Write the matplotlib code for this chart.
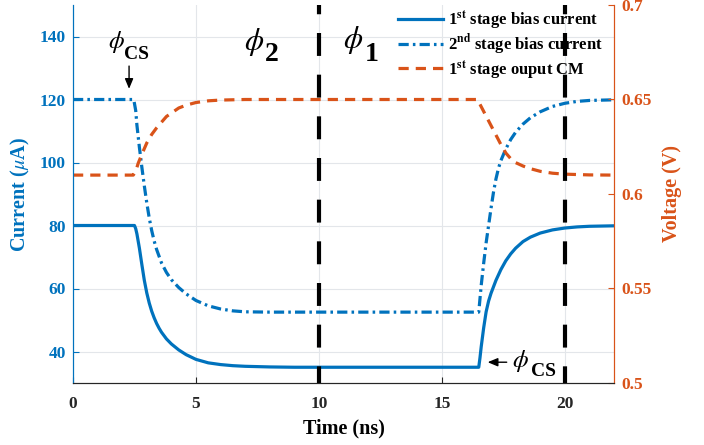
import numpy as np
import matplotlib
matplotlib.use("Agg")
import matplotlib.pyplot as plt

plt.rcParams['font.family'] = ['Liberation Serif', 'DejaVu Serif']
plt.rcParams['mathtext.fontset'] = 'stix'

BLUE = '#0072BD'
ORANGE = '#D95319'

# 1st stage bias current (uA)
t_first = [0, 2.5, 2.55, 2.6, 2.7, 2.8, 2.9, 3.0, 3.1, 3.2, 3.3, 3.4, 3.5, 3.6, 3.8, 4.0, 4.3,
           4.6, 5.0, 5.5, 6.0, 6.5, 7.0, 8.0, 9.0, 16.5, 16.55, 16.6, 16.7, 16.8, 16.9, 17.0,
           17.2, 17.4, 17.6, 17.8, 18.0, 18.3, 18.6, 19.0, 19.5, 20.0, 20.5, 21.0, 22.0]
i_first = [80, 80, 79, 77.3, 72.8, 67.6, 62.6, 58.6, 55.4, 52.8, 50.7, 48.9, 47.4, 46.1, 44, 42.4, 40.5,
           39, 37.5, 36.4, 35.85, 35.5, 35.3, 35.1, 35, 35, 38, 41.5, 47.5, 52.6, 56, 58.5,
           62.6, 66, 68.8, 71, 72.8, 74.9, 76.3, 77.6, 78.6, 79.2, 79.55, 79.75, 79.9]

# 2nd stage bias current (uA)
t_second = [0, 2.47, 2.55, 2.6, 2.7, 2.8, 2.9, 3.0, 3.1, 3.2, 3.3, 3.4, 3.6, 3.8, 4.0, 4.3,
            4.6, 5.0, 5.5, 6.0, 6.5, 7.0, 8.0, 16.5, 16.6, 16.7, 16.8, 16.9, 17.0, 17.1,
            17.2, 17.3, 17.4, 17.6, 17.8, 18.0, 18.3, 18.6, 19.0, 19.5, 20.0, 20.5, 21.0, 22.0]
i_second = [120, 120, 116.5, 111.8, 104.8, 98.5, 92.6, 87.2, 82.4, 78.4, 75.1, 72.4, 68.1, 65.1, 62.8, 60.3,
            58.3, 56.2, 54.5, 53.5, 52.9, 52.6, 52.5, 52.5, 61, 68, 74.5, 80, 85.5, 90.6,
            94.8, 98.1, 100.6, 104.3, 107.3, 109.6, 112.2, 114.2, 116.1, 117.8, 118.8, 119.4, 119.7, 119.9]

# 1st stage output common mode (V)
t_cm = [0, 2.45, 2.55, 2.65, 2.8, 3.0, 3.2, 3.4, 3.6, 3.8, 4.0, 4.3, 4.6, 5.0, 5.5, 6.0, 7.0,
        16.45, 16.6, 16.8, 17.0, 17.2, 17.4, 17.6, 17.8, 18.0, 18.3, 18.6, 19.0, 19.5, 20.0, 21.0, 22.0]
v_cm = [0.61, 0.61, 0.612, 0.6162, 0.621, 0.627, 0.6315, 0.635, 0.638, 0.641, 0.6428, 0.6455,
        0.647, 0.6484, 0.6493, 0.6497, 0.65,
        0.65, 0.6462, 0.6412, 0.6362, 0.6312, 0.6262, 0.6217, 0.6187, 0.6166, 0.6148, 0.6134,
        0.612, 0.611, 0.6105, 0.6101, 0.61]

phase_edges = [10, 20]
x_ticks = [0, 5, 10, 15, 20]
left_ticks = [40, 60, 80, 100, 120, 140]
right_ticks = [0.5, 0.55, 0.6, 0.65, 0.7]
right_labels = ['0.5', '0.55', '0.6', '0.65', '0.7']

fig = plt.figure(figsize=(7.04, 4.45), dpi=100)
ax = fig.add_axes([73 / 704, 62 / 445, 541 / 704, 378 / 445])
ax2 = ax.twinx()

l1, = ax.plot(t_first, i_first, color=BLUE, lw=2.3)
l2, = ax.plot(t_second, i_second, color=BLUE, lw=2.3, linestyle=(0, (3.2, 1.3, 0.8, 1.3)))
l3, = ax2.plot(t_cm, v_cm, color=ORANGE, lw=2.3, linestyle=(0, (3.2, 2.2)))
for xe in phase_edges:
    ax2.axvline(xe, color='black', lw=3, linestyle=(1.5, (5.5, 4.5)))

ax.set_xlim(0, 22)
ax.set_ylim(30, 150)
ax2.set_ylim(0.5, 0.7)
ax.set_xticks(x_ticks)
ax.set_yticks(left_ticks)
ax2.set_yticks(right_ticks)
ax2.set_yticklabels(right_labels)

ax.grid(True, color='#e3e6ea', lw=0.8)
ax.set_axisbelow(True)

ax.tick_params(axis='x', direction='in', length=4, labelsize=12.5, pad=9, colors='#262626')
ax.tick_params(axis='y', direction='in', length=4, labelsize=12.5, pad=5, colors=BLUE)
ax2.tick_params(axis='y', direction='in', length=4, labelsize=12.5, pad=5, colors=ORANGE)
for lab in ax.get_xticklabels() + ax.get_yticklabels() + ax2.get_yticklabels():
    lab.set_fontweight('bold')

for a in (ax, ax2):
    a.spines['top'].set_visible(False)
    a.spines['left'].set_color(BLUE)
    a.spines['right'].set_color(ORANGE)
    a.spines['bottom'].set_color('#262626')

ax.set_xlabel('Time (ns)', fontsize=14.5, fontweight='bold', labelpad=5)
ax.set_ylabel(r'Current ($\mu$A)', fontsize=14.5, fontweight='bold', color=BLUE, labelpad=6)
ax2.set_ylabel('Voltage (V)', fontsize=14.5, fontweight='bold', color=ORANGE, labelpad=8)

ax2.legend([l1, l2, l3],
           [r'1$^{\mathbf{st}}$ stage bias current',
            r'2$^{\mathbf{nd}}$ stage bias current',
            r'1$^{\mathbf{st}}$ stage ouput CM'],
           loc='upper left', bbox_to_anchor=(0.6, 0.99), frameon=False,
           handlelength=2.7, handletextpad=0.35, labelspacing=0.05,
           borderaxespad=0, borderpad=0, prop={'weight': 'bold', 'size': 12})

# phase labels
ax.text(7.36, 138.1, r'$\phi$', fontsize=22, ha='center', va='center')
ax.text(8.07, 134.4, '2', fontsize=20, fontweight='bold', ha='center', va='center')
ax.text(11.38, 139.0, r'$\phi$', fontsize=22, ha='center', va='center')
ax.text(12.15, 134.4, '1', fontsize=20, fontweight='bold', ha='center', va='center')

# phi_CS markers
ax.text(1.75, 138.3, r'$\phi$', fontsize=18, ha='center', va='center')
ax.text(2.6, 134.4, 'CS', fontsize=14, fontweight='bold', ha='center', va='center')
ax.annotate('', xy=(2.28, 122.5), xytext=(2.28, 131.5),
            arrowprops=dict(arrowstyle='-|>,head_length=0.6,head_width=0.25', color='black', lw=1))
ax.text(18.2, 37.1, r'$\phi$', fontsize=18, ha='center', va='center')
ax.text(19.13, 33.8, 'CS', fontsize=14, fontweight='bold', ha='center', va='center')
ax.annotate('', xy=(16.75, 36.6), xytext=(17.75, 36.6),
            arrowprops=dict(arrowstyle='-|>,head_length=0.6,head_width=0.25', color='black', lw=1))

fig.savefig('out.png', dpi=100)
